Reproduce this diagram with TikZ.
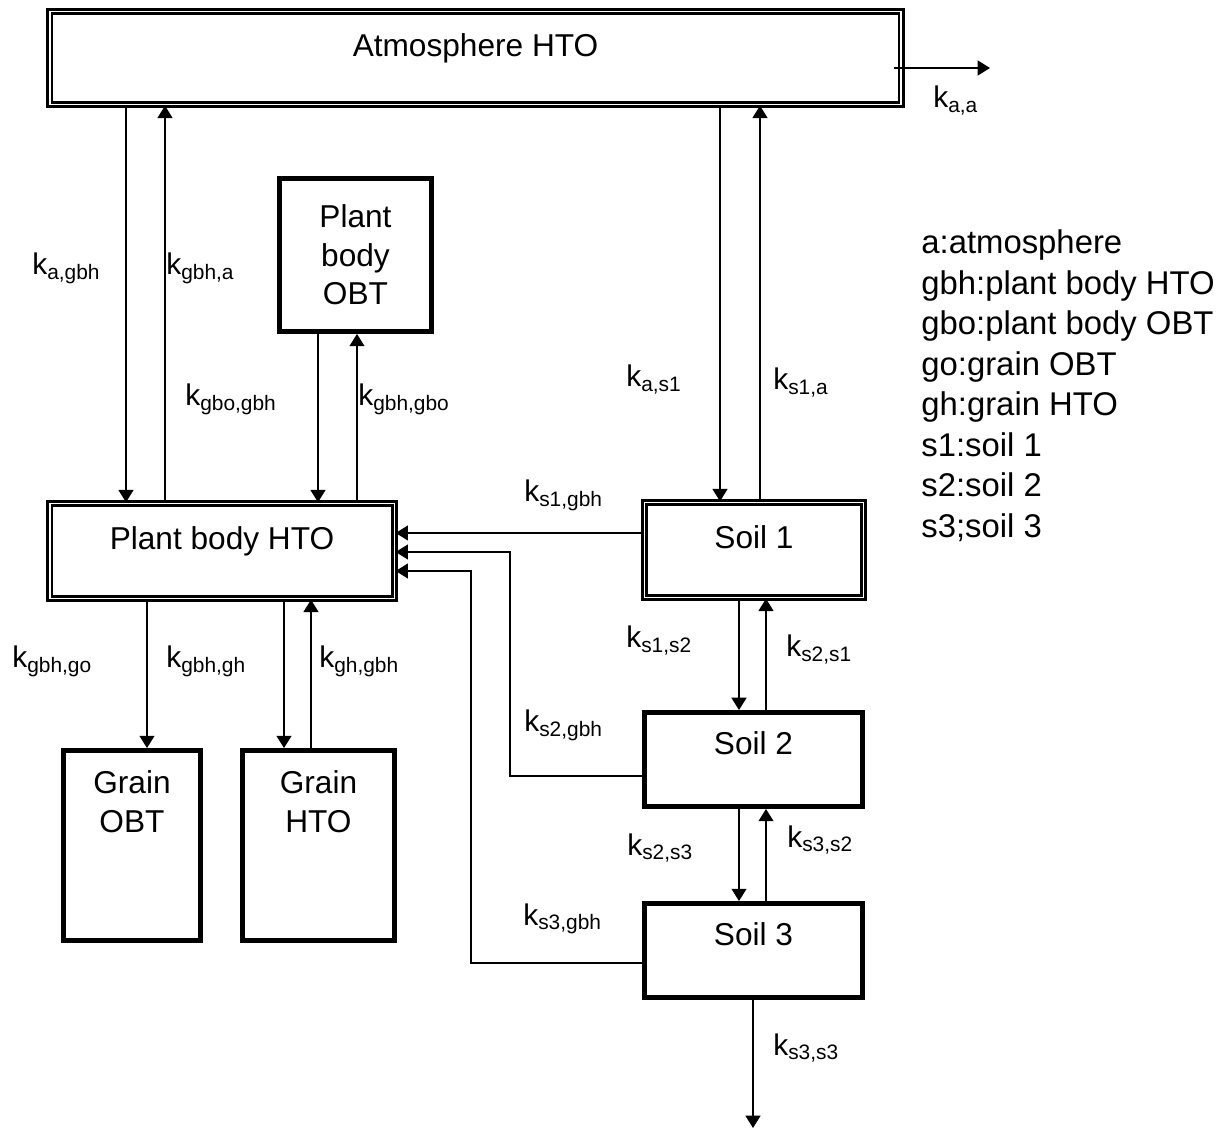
\documentclass[tikz,border=0pt]{standalone}
\usepackage{fontspec}
\setmainfont{Liberation Sans}
\usepackage{tikz}
\usetikzlibrary{arrows.meta}

\newcommand{\krate}[1]{k\textsubscript{#1}}

\begin{document}
\begin{tikzpicture}[x=0.02cm,y=-0.02cm,
  dbox/.style={rectangle,draw,double,line width=1.4pt,double distance=1.1pt,
               inner sep=0pt,font=\fontsize{18}{22}\selectfont,
               text height=0.42cm,text depth=0.46cm},
  tbox/.style={rectangle,draw,line width=2.8pt,inner sep=0pt,
               font=\fontsize{18}{22}\selectfont,align=center},
  soil/.style={text height=0.42cm,text depth=0.62cm},
  grain/.style={text height=0.42cm,text depth=0.96cm},
  arr/.style={-{Triangle[length=7pt,width=8.5pt]},line width=0.85pt},
  klab/.style={anchor=base west,inner sep=0pt,font=\fontsize{17}{20}\selectfont},
  key/.style={anchor=base west,inner sep=0pt,font=\fontsize{18.7}{22}\selectfont}]
\useasboundingbox (0,0) rectangle (1228,1131);

% compartments
\node[dbox,minimum width=17.04cm,minimum height=1.86cm] (atm) at (475.5,58) {Atmosphere HTO};
\node[tbox,minimum width=3.04cm,minimum height=3.06cm] (pbo) at (355.5,255) {Plant\\body\\OBT};
\node[dbox,minimum width=6.9cm,minimum height=1.9cm] (pbh) at (222,551) {Plant body HTO};
\node[dbox,minimum width=4.38cm,minimum height=1.9cm] (s1) at (754,550) {Soil 1};
\node[tbox,soil,minimum width=4.36cm,minimum height=1.88cm] (s2) at (753.5,759.5) {Soil 2};
\node[tbox,soil,minimum width=4.36cm,minimum height=1.88cm] (s3) at (753.5,950.5) {Soil 3};
\node[tbox,grain,minimum width=2.74cm,minimum height=3.8cm] (go) at (132,845.5) {Grain\\OBT};
\node[tbox,grain,minimum width=3.04cm,minimum height=3.8cm] (gh) at (318.5,845.5) {Grain\\HTO};

% free ends
\coordinate (aout) at (990,68);
\coordinate (sout) at (753,1128);

% transfers
\draw[arr] (atm.south -| 126,0) -- (pbh.north -| 126,0);
\draw[arr] (pbh.north -| 165,0) -- (atm.south -| 165,0);
\draw[arr] (pbo.south -| 318,0) -- (pbh.north -| 318,0);
\draw[arr] (pbh.north -| 357,0) -- (pbo.south -| 357,0);
\draw[arr] (atm.south -| 720,0) -- (s1.north -| 720,0);
\draw[arr] (s1.north -| 760,0) -- (atm.south -| 760,0);
\draw[arr,shorten <=-0.17cm] (atm.east |- aout) -- (aout);
\draw[arr] (s1.west |- 0,533) -- (pbh.east |- 0,533);
\draw[arr] (s2.west |- 0,776) -| (510,552) -- (pbh.east |- 0,552);
\draw[arr] (s3.west |- 0,963) -| (471,571) -- (pbh.east |- 0,571);
\draw[arr] (pbh.south -| 147,0) -- (go.north -| 147,0);
\draw[arr] (pbh.south -| 284,0) -- (gh.north -| 284,0);
\draw[arr] (gh.north -| 311,0) -- (pbh.south -| 311,0);
\draw[arr] (s1.south -| 739,0) -- (s2.north -| 739,0);
\draw[arr] (s2.north -| 766,0) -- (s1.south -| 766,0);
\draw[arr] (s2.south -| 739,0) -- (s3.north -| 739,0);
\draw[arr] (s3.north -| 766,0) -- (s2.south -| 766,0);
\draw[arr] (s3.south -| sout) -- (sout);

% rate constants
\node[klab] (kaa) at (933,108) {\krate{a,a}};
\node[klab] (kagbh) at (32,275) {\krate{a,gbh}};
\node[klab] (kgbha) at (166,275) {\krate{gbh,a}};
\node[klab] (kgbogbh) at (185,406) {\krate{gbo,gbh}};
\node[klab] (kgbhgbo) at (358,406) {\krate{gbh,gbo}};
\node[klab] (kas1) at (626,387) {\krate{a,s1}};
\node[klab] (ks1a) at (773,390) {\krate{s1,a}};
\node[klab] (ks1gbh) at (524,502) {\krate{s1,gbh}};
\node[klab] (ks1s2) at (626,648) {\krate{s1,s2}};
\node[klab] (ks2s1) at (786,657) {\krate{s2,s1}};
\node[klab] (ks2gbh) at (524,732) {\krate{s2,gbh}};
\node[klab] (ks2s3) at (627,855) {\krate{s2,s3}};
\node[klab] (ks3s2) at (787,847) {\krate{s3,s2}};
\node[klab] (ks3gbh) at (523,925) {\krate{s3,gbh}};
\node[klab] (ks3s3) at (773,1055) {\krate{s3,s3}};
\node[klab] (kgbhgo) at (12,668) {\krate{gbh,go}};
\node[klab] (kgbhgh) at (166,668) {\krate{gbh,gh}};
\node[klab] (kghgbh) at (319,668) {\krate{gh,gbh}};

% legend
\foreach \txt [count=\i] in {a:atmosphere,gbh:plant body HTO,gbo:plant body OBT,
    go:grain OBT,gh:grain HTO,s1:soil 1,s2:soil 2,s3;soil 3}
  \node[key] (key\i) at (921,{254+40.5*(\i-1)}) {\txt};
\end{tikzpicture}
\end{document}
